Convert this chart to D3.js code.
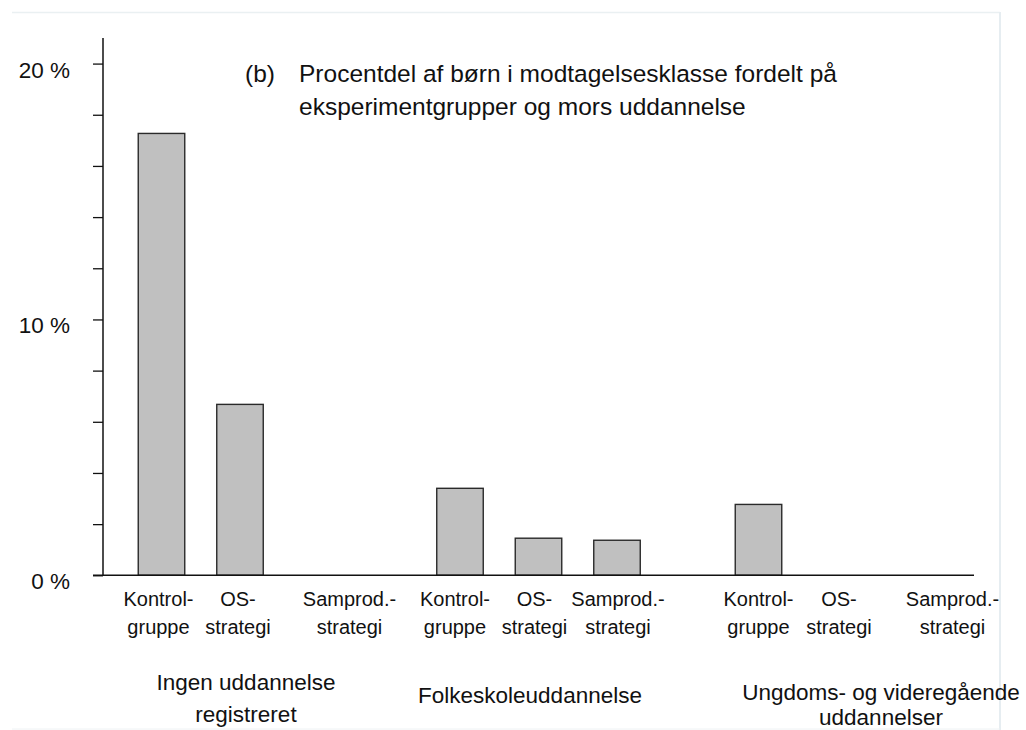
<!DOCTYPE html>
<html>
<head>
<meta charset="utf-8">
<script src="https://cdn.jsdelivr.net/npm/d3@7/dist/d3.min.js"></script>
<style>
  html, body { margin: 0; padding: 0; background: #fff; }
  svg { display: block; }
  text { font-family: "Liberation Sans", Arial, sans-serif; fill: #111; }
</style>
</head>
<body>
<svg id="chart" width="1026" height="730"></svg>
<script>
// ---- data ----
const groups = ["Ingen uddannelse registreret", "Folkeskoleuddannelse", "Ungdoms- og videregående uddannelser"];
const groupLabelLines = [["Ingen uddannelse", "registreret"], ["Folkeskoleuddannelse"], ["Ungdoms- og videregående", "uddannelser"]];
const categories = ["Kontrolgruppe", "OS-strategi", "Samprod.-strategi"];
const categoryLabelLines = [["Kontrol-", "gruppe"], ["OS-", "strategi"], ["Samprod.-", "strategi"]];
const valuesKontrol = [17.27, 3.40, 2.77];
const valuesOS = [6.68, 1.45, 0];
const valuesSamprod = [0, 1.37, 0];
const yTickValues = [0, 2, 4, 6, 8, 10, 12, 14, 16, 18, 20];
const yTickLabels = ["0 %", "", "", "", "", "10 %", "", "", "", "", "20 %"];
const titleTag = "(b)";
const titleLines = ["Procentdel af børn i modtagelsesklasse fordelt på", "eksperimentgrupper og mors uddannelse"];

// ---- layout ----
const svg = d3.select("#chart");
const y0 = 575.3, yTop = 38;
const axisX = 103;

const y = d3.scaleLinear().domain([0, 21]).range([y0, yTop]);
const xGroup = d3.scaleBand().domain(groups).range([90.75, 986.25]).paddingInner(0).paddingOuter(0);
const xCat = d3.scaleBand().domain(categories).range([0, xGroup.bandwidth()]).paddingInner(0.4076).paddingOuter(0.605);

const seriesValues = [valuesKontrol, valuesOS, valuesSamprod];
const bars = [];
groups.forEach((g, gi) => {
  categories.forEach((c, ci) => {
    bars.push({ group: g, cat: c, value: seriesValues[ci][gi], gi, ci });
  });
});

// light frame
svg.append("line").attr("x1", 12).attr("x2", 1000).attr("y1", 12.5).attr("y2", 12.5)
  .attr("stroke", "#eaf0f2").attr("stroke-width", 1.5);
svg.append("line").attr("x1", 1000).attr("x2", 1000).attr("y1", 12).attr("y2", 730)
  .attr("stroke", "#e6edf1").attr("stroke-width", 2);
svg.append("line").attr("x1", 12).attr("x2", 1000).attr("y1", 729).attr("y2", 729)
  .attr("stroke", "#eef2f4").attr("stroke-width", 1);

// bars
svg.append("g").selectAll("rect")
  .data(bars.filter(d => d.value > 0))
  .join("rect")
  .attr("x", d => xGroup(d.group) + xCat(d.cat))
  .attr("width", xCat.bandwidth())
  .attr("y", d => y(d.value))
  .attr("height", d => y(0) - y(d.value))
  .attr("fill", "#c0c0c0")
  .attr("stroke", "#2a2a2a")
  .attr("stroke-width", 1.4);

// y axis
const yAxis = d3.axisLeft(y).tickValues(yTickValues).tickSize(10).tickFormat(() => "");
const yg = svg.append("g").attr("transform", `translate(${axisX},0)`).call(yAxis);
yg.select(".domain").remove();
yg.selectAll(".tick line").attr("stroke", "#111").attr("stroke-width", 1.3);
yg.append("line").attr("x1", 0).attr("x2", 0).attr("y1", yTop).attr("y2", y0)
  .attr("stroke", "#111").attr("stroke-width", 1.5);

// y tick labels
svg.append("g").selectAll("text")
  .data(yTickValues.map((v, i) => ({ v, label: yTickLabels[i] })).filter(d => d.label))
  .join("text")
  .attr("x", 70)
  .attr("y", d => y(d.v) + 14)
  .attr("text-anchor", "end")
  .attr("font-size", 22.5)
  .text(d => d.label);

// x axis baseline
svg.append("line").attr("x1", 93).attr("x2", 974).attr("y1", y0).attr("y2", y0)
  .attr("stroke", "#111").attr("stroke-width", 1.5);

// category labels
const catShift = [[-3, -2, 31], [-5, -4, 1], [0, 2, 37]];
const catG = svg.append("g");
bars.forEach(d => {
  const cx = xGroup(d.group) + xCat(d.cat) + xCat.bandwidth() / 2 + catShift[d.gi][d.ci];
  const t = catG.append("text").attr("text-anchor", "middle").attr("font-size", 20);
  categoryLabelLines[d.ci].forEach((line, li) => {
    t.append("tspan").attr("x", cx).attr("y", 606 + li * 28).text(line);
  });
});

// group labels
const groupLabelX = [246 - 240, 530 - 538.5, 881 - 837];
const groupLabelY = [[690, 722], [703], [700, 725]];
const grpG = svg.append("g");
groups.forEach((g, gi) => {
  const cx = xGroup(g) + xGroup.bandwidth() / 2 + groupLabelX[gi];
  const t = grpG.append("text").attr("text-anchor", "middle").attr("font-size", 22.5);
  groupLabelLines[gi].forEach((line, li) => {
    t.append("tspan").attr("x", cx).attr("y", groupLabelY[gi][li]).text(line);
  });
});

// title
svg.append("text").attr("x", 245).attr("y", 82).attr("font-size", 24.5).text(titleTag);
const tt = svg.append("text").attr("font-size", 24.5);
titleLines.forEach((line, li) => {
  tt.append("tspan").attr("x", 299).attr("y", 82 + li * 33).text(line);
});
</script>
</body>
</html>
